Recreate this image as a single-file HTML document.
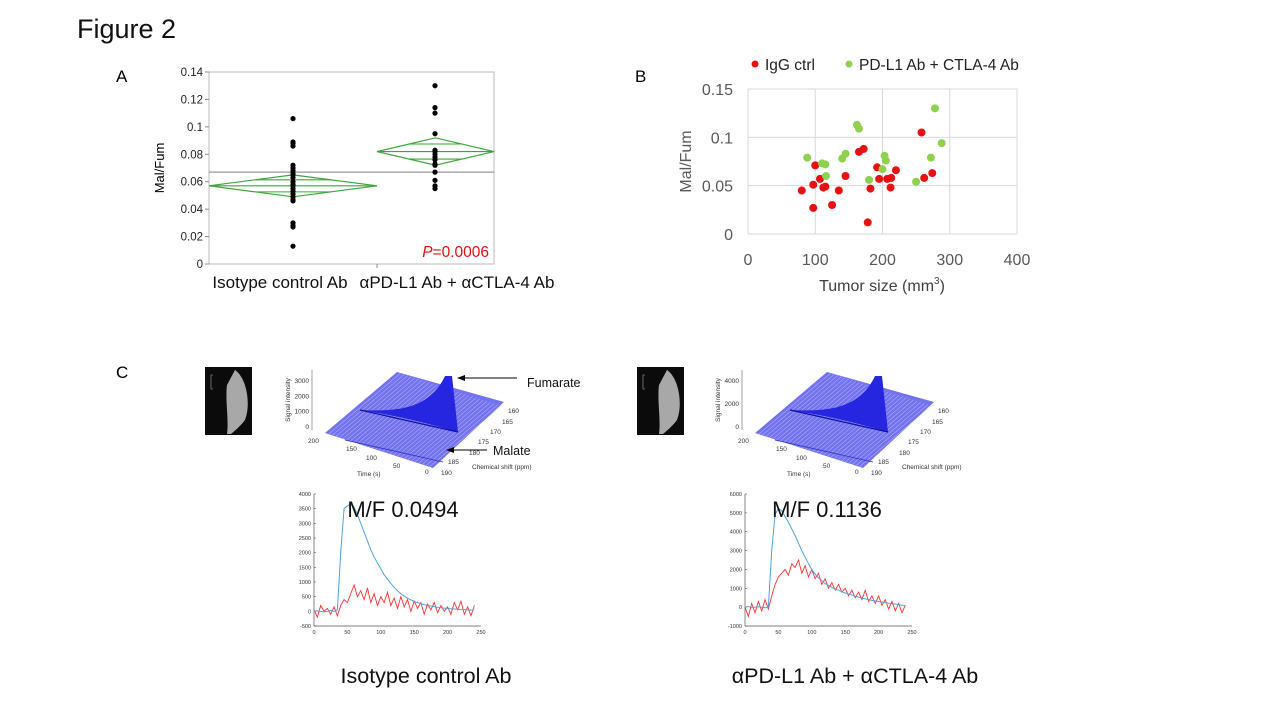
<!DOCTYPE html>
<html><head><meta charset="utf-8"><style>
html,body{margin:0;padding:0;background:#fff;}
svg{display:block;font-family:"Liberation Sans",sans-serif;}
</style></head><body>
<svg id="fig" width="1280" height="720" viewBox="0 0 1280 720">
<text x="77" y="38" font-size="27" fill="#111">Figure 2</text>
<text x="116" y="82" font-size="17">A</text>
<text x="635" y="82" font-size="17">B</text>
<text x="116" y="378" font-size="17">C</text>
<g id="pa"></g>
<g id="pb"></g>
<g id="pc"></g>
</svg>
<script>
// ---------- Panel A data ----------
const aCategories = ["Isotype control Ab", "\u03b1PD-L1 Ab + \u03b1CTLA-4 Ab"];
const aGroup1 = [0.106,0.089,0.088,0.086,0.072,0.070,0.068,0.066,0.065,0.063,0.060,0.058,0.057,0.055,0.053,0.051,0.049,0.047,0.046,0.030,0.028,0.027,0.013];
const aGroup2 = [0.130,0.114,0.110,0.095,0.083,0.082,0.080,0.078,0.076,0.073,0.072,0.067,0.061,0.057,0.055];
const aMeans = [0.057, 0.082];
const aCIHalf = [0.008, 0.010];
const aGrandMean = 0.067;
const aTicks = [0,0.02,0.04,0.06,0.08,0.1,0.12,0.14];
// ---------- Panel B data ----------
const bRedX = [80,97,97,100,107,112,115,125,135,145,165,172,178,182,192,195,207,212,213,220,258,262,274];
const bRedY = [0.045,0.051,0.027,0.071,0.057,0.048,0.049,0.030,0.045,0.060,0.085,0.088,0.012,0.047,0.069,0.057,0.057,0.048,0.058,0.066,0.105,0.058,0.063];
const bGreenX = [88,110,115,116,140,145,162,165,180,200,203,205,250,272,278,288];
const bGreenY = [0.079,0.073,0.072,0.060,0.078,0.083,0.113,0.109,0.056,0.067,0.081,0.076,0.054,0.079,0.130,0.094];
const bXTicks = [0,100,200,300,400];
const bYTicks = [0,0.05,0.1,0.15];
const bYTickLabels = ["0","0.05","0.1","0.15"];
// ---------- Panel C data (time 0..240 step 5) ----------
const cTime = [0,5,10,15,20,25,30,35,40,45,50,55,60,65,70,75,80,85,90,95,100,105,110,115,120,125,130,135,140,145,150,155,160,165,170,175,180,185,190,195,200,205,210,215,220,225,230,235,240];
const cFumL = [0,20,0,-20,0,30,0,50,2000,3500,3600,3650,3550,3300,3000,2700,2400,2100,1850,1650,1450,1250,1100,950,820,700,600,520,450,390,340,300,260,230,200,180,160,140,120,110,100,90,80,70,60,60,50,40,40];
const cMalL = [50,-200,200,0,100,-100,150,-150,200,400,300,600,900,500,700,400,800,300,600,200,500,300,650,200,450,100,500,150,400,0,350,100,300,-100,250,50,300,-50,200,0,150,-100,300,50,350,-100,150,-150,200];
const cFumR = [0,30,-20,0,20,0,-30,20,3000,4900,5250,5100,4800,4500,4150,3800,3400,3000,2650,2300,2000,1750,1550,1400,1250,1150,1050,950,900,820,750,700,640,580,530,480,440,400,360,330,300,270,240,210,180,160,130,100,80];
const cMalR = [0,-500,200,-300,300,-200,400,-100,600,1200,1600,1800,2000,1700,2300,2100,2500,1800,2200,1600,2000,1500,1800,1200,1500,1000,1300,900,1200,800,1000,600,900,500,800,400,900,300,600,200,600,100,400,-100,300,-200,200,-300,100];
const cLTicks = [-500,0,500,1000,1500,2000,2500,3000,3500,4000];
const cRTicks = [-1000,0,1000,2000,3000,4000,5000,6000];
const cXTicks = [0,50,100,150,200,250];

const NS = "http://www.w3.org/2000/svg";
function mk(parent, tag, attrs, text){const e=document.createElementNS(NS,tag);for(const k in attrs)e.setAttribute(k,attrs[k]);if(text!==undefined)e.textContent=text;parent.appendChild(e);return e;}

// ---------- Panel A ----------
(function(){
const g=document.getElementById('pa');
const L=209,R=494,T=72,B=264;
const y=v=>B-(v/0.14)*(B-T);
const xs=[293,435]; const split=377;
let r=mk(g,'rect',{x:L,y:T,width:R-L,height:B-T,fill:'none',stroke:'#bbb','stroke-width':1});

aTicks.forEach(t=>{
 let l=mk(g,'line',{x1:L-4,x2:L,y1:y(t),y2:y(t),stroke:'#888'});
 
 let tx=mk(g,'text',{x:L-6,y:y(t)+4,'font-size':11.5,'text-anchor':'end',fill:'#222'},String(t));
 
});
let yt=mk(g,'text',{x:0,y:0,'font-size':13,'text-anchor':'middle',transform:`translate(164,${(T+B)/2}) rotate(-90)`},'Mal/Fum');

let gm=mk(g,'line',{x1:L,x2:R,y1:y(aGrandMean),y2:y(aGrandMean),stroke:'#999','stroke-width':1.3});

const ranges=[[L,split],[split,R]];
aMeans.forEach((m,i)=>{
 const [a,b]=ranges[i], c=(a+b)/2, h=aCIHalf[i];
 let p=mk(g,'polygon',{points:`${a},${y(m)} ${c},${y(m+h)} ${b},${y(m)} ${c},${y(m-h)}`,fill:'none',stroke:'#3aa63a','stroke-width':1.2});
 
 let ml=mk(g,'line',{x1:a,x2:b,y1:y(m),y2:y(m),stroke:'#3aa63a','stroke-width':1.1});
 
 const o=h*0.55, half=(b-a)/2*(o/h);
 [m+o,m-o].forEach(v=>{let ol=mk(g,'line',{x1:a+half,x2:b-half,y1:y(v),y2:y(v),stroke:'#3aa63a','stroke-width':1.1});
  });
});
[aGroup1,aGroup2].forEach((arr,i)=>arr.forEach(v=>{
 let d=mk(g,'circle',{cx:xs[i],cy:y(v),r:2.6,fill:'#000'});
 
}));
let xt=mk(g,'line',{x1:split,x2:split,y1:B,y2:B+4,stroke:'#888'});

aCategories.forEach((c,i)=>{
 let t=mk(g,'text',{x:[280,457][i],y:288,'font-size':17,'text-anchor':'middle',fill:'#111'},c);
 
});
let pv=mk(g,'text',{x:489,y:257,'font-size':15.5,'text-anchor':'end',fill:'#e01010'});

mk(pv,'tspan',{'font-style':'italic'},'P');mk(pv,'tspan',{},'=0.0006');
})();

// ---------- Panel B ----------
(function(){
const g=document.getElementById('pb');
const L=748,R=1017,T=89,B=234;
const x=v=>L+v/400*(R-L), y=v=>B-v/0.15*(B-T);
bYTicks.forEach((t,i)=>{
 let l=mk(g,'line',{x1:L,x2:R,y1:y(t),y2:y(t),stroke:'#d9d9d9'});
 
 let tx=mk(g,'text',{x:733,y:y(t)+6,'font-size':16,'text-anchor':'end',fill:'#595959'},bYTickLabels[i]);
 
});
bXTicks.forEach(t=>{
 let l=mk(g,'line',{x1:x(t),x2:x(t),y1:T,y2:B,stroke:'#d9d9d9'});
 
 let tx=mk(g,'text',{x:x(t),y:265,'font-size':16,'text-anchor':'middle',fill:'#595959'},String(t));
 
});
let xtt=mk(g,'text',{x:882,y:291,'font-size':16,'text-anchor':'middle',fill:'#404040'});

mk(xtt,'tspan',{},'Tumor size (mm');mk(xtt,'tspan',{'font-size':10,dy:-7},'3');mk(xtt,'tspan',{dy:7},')');
let ytt=mk(g,'text',{x:0,y:0,'font-size':16,'text-anchor':'middle',fill:'#595959',transform:`translate(691,${(T+B)/2}) rotate(-90)`},'Mal/Fum');

bRedX.forEach((v,i)=>{let c=mk(g,'circle',{cx:x(v),cy:y(bRedY[i]),r:4,fill:'#e81010'});
 });
bGreenX.forEach((v,i)=>{let c=mk(g,'circle',{cx:x(v),cy:y(bGreenY[i]),r:4,fill:'#8fd14f'});
 });
let lg=mk(g,'g',{});
let l1=mk(lg,'circle',{cx:755,cy:64,r:3.5,fill:'#e81010'});
let t1=mk(lg,'text',{x:765,y:70,'font-size':15.5,fill:'#222'},'IgG ctrl');
let l2=mk(lg,'circle',{cx:849,cy:64,r:3.5,fill:'#8fd14f'});
let t2=mk(lg,'text',{x:859,y:70,'font-size':15.5,fill:'#222'},'PD-L1 Ab + CTLA-4 Ab');
})();

// ---------- Panel C ----------
(function(){
const g=document.getElementById('pc');
function mri(ox,name){
 let gg=mk(g,'g',{});
 mk(gg,'rect',{x:ox,y:367,width:47,height:68,fill:'#0b0b0b'});
 mk(gg,'path',{d:`M${ox+30},370 C${ox+42},378 ${ox+46},405 ${ox+40},420 C${ox+34},428 ${ox+28},432 ${ox+26},434 L${ox+22},434 C${ox+24},420 ${ox+20},400 ${ox+22},385 Z`,fill:'#a8a8a8'});
 mk(gg,'path',{d:`M${ox+8},375 l-2,0 l0,14 l2,0`,stroke:'#aaa',fill:'none','stroke-width':0.6});
}
mri(205,'mri-image-control');mri(637,'mri-image-treated');
function surf(dx,name,lbls){
 let gg=mk(g,'g',{});
 const P=[[325+dx,433],[397+dx,372],[504+dx,402],[433+dx,468]];
 mk(gg,'polygon',{points:P.map(p=>p.join(',')).join(' '),fill:'#7373f0'});
 for(let k=1;k<30;k++){const f=k/30;const ax=P[0][0]+(P[3][0]-P[0][0])*f, ay=P[0][1]+(P[3][1]-P[0][1])*f;
  mk(gg,'line',{x1:ax,y1:ay,x2:ax+(P[1][0]-P[0][0]),y2:ay+(P[1][1]-P[0][1]),stroke:'#c8c8ff','stroke-width':0.5});}
 mk(gg,'path',{d:`M${360+dx},410 C${400+dx},412 ${430+dx},408 ${445+dx},376 L${452+dx},376 L${458+dx},432 C${430+dx},424 ${400+dx},416 ${360+dx},410 Z`,fill:'#2626e0'});
 mk(gg,'line',{x1:360+dx,y1:410,x2:458+dx,y2:432,stroke:'#1010a0','stroke-width':1.2});
 mk(gg,'line',{x1:345+dx,y1:440,x2:443+dx,y2:462,stroke:'#3030c0','stroke-width':0.8});
 mk(gg,'line',{x1:312+dx,y1:370,x2:312+dx,y2:430,stroke:'#666','stroke-width':0.6});
 lbls.forEach((t,i)=>mk(gg,'text',{x:309+dx,y:383+i*(46/(lbls.length-1)),'font-size':6.5,'text-anchor':'end',fill:'#333'},t));
 mk(gg,'text',{x:0,y:0,'font-size':6.5,fill:'#333','text-anchor':'middle',transform:`translate(${290+dx},400) rotate(-90)`},'Signal intensity');
 [['200',308,443],['150',346,451],['100',366,460],['50',393,468],['0',425,474]].forEach(a=>mk(gg,'text',{x:a[1]+dx,y:a[2],'font-size':6.5,fill:'#333'},a[0]));
 mk(gg,'text',{x:357+dx,y:476,'font-size':6.5,fill:'#333'},'Time (s)');
 [['160',508,413],['165',502,424],['170',490,434],['175',478,444],['180',469,455],['185',448,464],['190',441,475]].forEach(a=>mk(gg,'text',{x:a[1]+dx,y:a[2],'font-size':6.5,fill:'#333'},a[0]));
 mk(gg,'text',{x:472+dx,y:469,'font-size':6.5,fill:'#333'},'Chemical shift (ppm)');
}
surf(0,'surface-plot-control',['3000','2000','1000','0']);
surf(430,'surface-plot-treated',['4000','2000','0']);
[[517,378,457,'Fumarate',527,387,'fumarate-annotation'],[487,450,446,'Malate',493,455,'malate-annotation']].forEach(a=>{
 let gg=mk(g,'g',{});
 mk(gg,'line',{x1:a[0],y1:a[1],x2:a[2]+6,y2:a[1],stroke:'#000','stroke-width':1});
 mk(gg,'polygon',{points:`${a[2]},${a[1]} ${a[2]+8},${a[1]-3} ${a[2]+8},${a[1]+3}`,fill:'#000'});
 mk(gg,'text',{x:a[4],y:a[5],'font-size':12.5,fill:'#111'},a[3]);
});
function lineChart(L,R,T,B,ymin,ymax,ticks,fum,mal,name){
 let gg=mk(g,'g',{});
 const x=v=>L+v/250*(R-L), y=v=>B-(v-ymin)/(ymax-ymin)*(B-T);
 mk(gg,'line',{x1:L,x2:L,y1:T,y2:B,stroke:'#555','stroke-width':0.7});
 mk(gg,'line',{x1:L,x2:R,y1:B,y2:B,stroke:'#555','stroke-width':0.7});
 ticks.forEach(t=>{mk(gg,'line',{x1:L,x2:L+2,y1:y(t),y2:y(t),stroke:'#555','stroke-width':0.6});
  mk(gg,'text',{x:L-3,y:y(t)+2,'font-size':5.5,'text-anchor':'end',fill:'#333'},String(t));});
 cXTicks.forEach(t=>mk(gg,'text',{x:x(t),y:B+8,'font-size':5.5,'text-anchor':'middle',fill:'#333'},String(t)));
 let m=mk(gg,'polyline',{points:cTime.map((t,i)=>x(t)+','+y(mal[i])).join(' '),fill:'none',stroke:'#ff3030','stroke-width':0.9});
 
 let f=mk(gg,'polyline',{points:cTime.map((t,i)=>x(t)+','+y(fum[i])).join(' '),fill:'none',stroke:'#4da3dd','stroke-width':1});
 
}
lineChart(314,481,494,626,-500,4000,cLTicks,cFumL,cMalL,'time-course-control');
lineChart(745,912,494,626,-1000,6000,cRTicks,cFumR,cMalR,'time-course-treated');
[['M/F 0.0494',403,517,22,'ratio-label-control'],['M/F 0.1136',827,517,22,'ratio-label-treated'],['Isotype control Ab',426,683,21.5,'group-label-control'],['\u03b1PD-L1 Ab + \u03b1CTLA-4 Ab',855,683,21.5,'group-label-treated']].forEach(a=>{
 let t=mk(g,'text',{x:a[1],y:a[2],'font-size':a[3],'text-anchor':'middle',fill:'#111'},a[0]);
 
});
})();
</script>
</body></html>
